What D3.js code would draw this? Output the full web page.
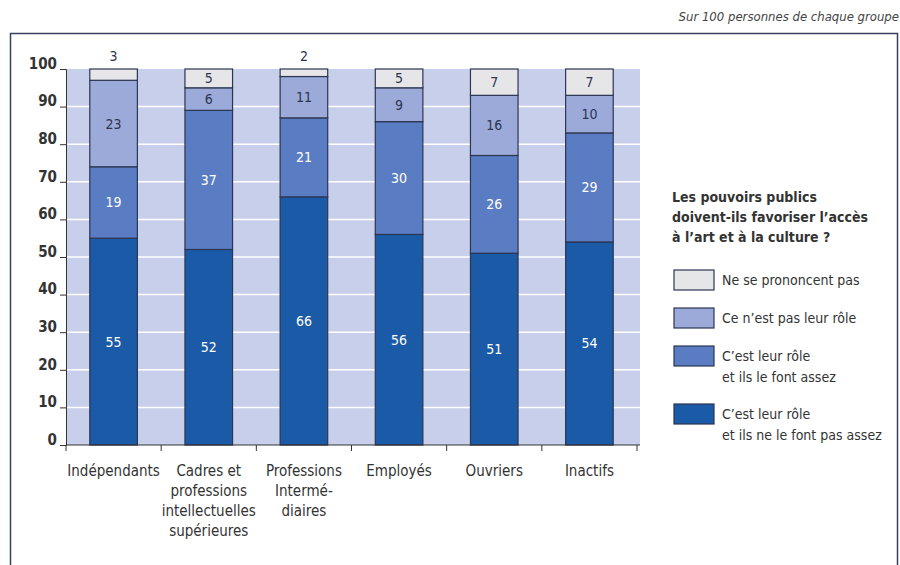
<!DOCTYPE html>
<html>
<head>
<meta charset="utf-8">
<script src="https://cdn.jsdelivr.net/npm/d3@7"></script>
<style>
  body { margin: 0; background: #fff; }
  text { font-family: "Liberation Sans Narrow", "DejaVu Sans Condensed", sans-serif; }
</style>
</head>
<body>
<div id="chart-area"></div>
<script>
var categories = [["Indépendants"], ["Cadres et", "professions", "intellectuelles", "supérieures"],
                  ["Professions", "Intermé-", "diaires"], ["Employés"], ["Ouvriers"], ["Inactifs"]];
var pasAssez = [55, 52, 66, 56, 51, 54];
var assez = [19, 37, 21, 30, 26, 29];
var pasRole = [23, 6, 11, 9, 16, 10];
var nsp = [3, 5, 2, 5, 7, 7];
var yTicks = [0, 10, 20, 30, 40, 50, 60, 70, 80, 90, 100];
var seriesNames = ["Ne se prononcent pas", "Ce n\u2019est pas leur rôle",
                   "C\u2019est leur rôle|et ils le font assez", "C\u2019est leur rôle|et ils ne le font pas assez"];
var colors = ["#1b5aa6", "#5a7cc2", "#9caad9", "#e6e6e8"];

var width = 900, height = 565;
var svg = d3.select("#chart-area").append("svg")
    .attr("width", width).attr("height", height);

// frame
svg.append("path")
    .attr("d", "M10.5,565 V33.5 H897.5 V565")
    .attr("fill", "none").attr("stroke", "#3a4060").attr("stroke-width", 1.5);

svg.append("text")
    .attr("x", 899).attr("y", 21)
    .attr("text-anchor", "end")
    .attr("font-style", "italic")
    .attr("font-size", 13)
    .attr("fill", "#444")
    .text("Sur 100 personnes de chaque groupe");

var x = d3.scaleBand().domain(d3.range(6)).range([66, 637]).paddingInner(0.5).paddingOuter(0.25);
var y = d3.scaleLinear().domain([0, 100]).range([445, 69]);

// background
svg.append("rect")
    .attr("x", 66).attr("y", y(100))
    .attr("width", 640 - 66).attr("height", y(0) - y(100))
    .attr("fill", "#c8cfea");

svg.append("g").selectAll("line").data(yTicks.filter(function (d) { return d > 0 && d < 100; }))
    .enter().append("line")
    .attr("x1", 66).attr("x2", 640)
    .attr("y1", function (d) { return y(d); }).attr("y2", function (d) { return y(d); })
    .attr("stroke", "#fff").attr("stroke-width", 1.5);

// stacks
var rows = categories.map(function (c, i) {
    return { i: i, pasAssez: pasAssez[i], assez: assez[i], pasRole: pasRole[i], nsp: nsp[i] };
});
var keys = ["pasAssez", "assez", "pasRole", "nsp"];
var stack = d3.stack().keys(keys)(rows);

stack.forEach(function (layer, k) {
    svg.append("g").selectAll("rect").data(layer).enter().append("rect")
        .attr("x", function (d) { return x(d.data.i); })
        .attr("y", function (d) { return y(d[1]); })
        .attr("width", x.bandwidth())
        .attr("height", function (d) { return y(d[0]) - y(d[1]); })
        .attr("fill", colors[k])
        .attr("stroke", "#2c3552").attr("stroke-width", 1.2);

    svg.append("g").selectAll("text").data(layer).enter().append("text")
        .attr("x", function (d) { return x(d.data.i) + x.bandwidth() / 2; })
        .attr("y", function (d) {
            var v = d[1] - d[0];
            if (v < 4) return y(100) - 8;
            return y((d[0] + d[1]) / 2) + 5;
        })
        .attr("text-anchor", "middle")
        .attr("font-size", 14)
        .attr("fill", k < 2 ? "#fff" : "#2c3552")
        .text(function (d) { return d[1] - d[0]; });
});

// y axis
var yAxis = svg.append("g")
    .attr("transform", "translate(66,0)")
    .call(d3.axisLeft(y).tickValues(yTicks).tickSize(6).tickPadding(3));
yAxis.select(".domain").attr("stroke", "#333");
yAxis.selectAll(".tick line").attr("stroke", "#333");
yAxis.selectAll(".tick text")
    .attr("font-size", 15).attr("fill", "#333").attr("font-weight", "bold")
    .attr("font-family", "'Liberation Sans Narrow', 'DejaVu Sans Condensed', sans-serif")
    .attr("dy", "-0.05em");

// x axis
var xAxisG = svg.append("g").attr("transform", "translate(0," + y(0) + ")");
xAxisG.append("line").attr("x1", 66).attr("x2", 640).attr("stroke", "#333").attr("stroke-width", 1.2);
var step = x.step();
xAxisG.selectAll(".tk").data(d3.range(7)).enter().append("line")
    .attr("x1", function (d) { return 66 + d * step; })
    .attr("x2", function (d) { return 66 + d * step; })
    .attr("y1", 0).attr("y2", 6)
    .attr("stroke", "#333");

var catG = svg.append("g").selectAll("text").data(categories).enter().append("text")
    .attr("x", function (d, i) { return x(i) + x.bandwidth() / 2; })
    .attr("y", 476)
    .attr("text-anchor", "middle")
    .attr("font-size", 15)
    .attr("fill", "#333");
catG.selectAll("tspan").data(function (d) { return d; }).enter().append("tspan")
    .attr("x", function () { return this.parentNode.getAttribute("x"); })
    .attr("dy", function (d, j) { return j === 0 ? 0 : 20; })
    .text(function (d) { return d; });

// legend
var legTitle = ["Les pouvoirs publics", "doivent-ils favoriser l\u2019accès", "à l\u2019art et à la culture ?"];
svg.append("g").selectAll("text").data(legTitle).enter().append("text")
    .attr("x", 672).attr("y", function (d, i) { return 202 + i * 20; })
    .attr("font-size", 14).attr("font-weight", "bold").attr("fill", "#333")
    .text(function (d) { return d; });

var legY = [270, 308, 346, 404];
var legColors = [colors[3], colors[2], colors[1], colors[0]];
seriesNames.forEach(function (name, i) {
    svg.append("rect")
        .attr("x", 674).attr("y", legY[i])
        .attr("width", 40).attr("height", 20)
        .attr("fill", legColors[i]).attr("stroke", "#2c3552").attr("stroke-width", 1.2);
    var t = svg.append("text")
        .attr("x", 722).attr("y", legY[i] + 15)
        .attr("font-size", 14).attr("fill", "#333");
    name.split("|").forEach(function (line, j) {
        t.append("tspan").attr("x", 722).attr("dy", j === 0 ? 0 : 21).text(line);
    });
});
</script>
</body>
</html>
